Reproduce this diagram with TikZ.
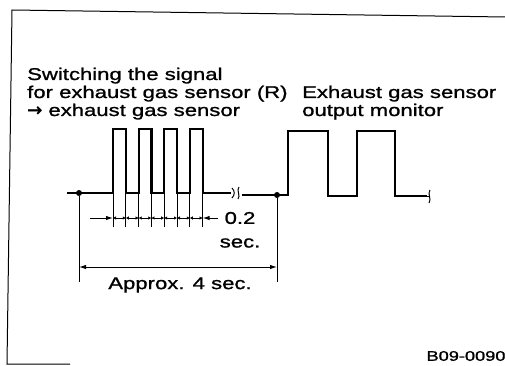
\documentclass[tikz,border=0pt]{standalone}
\usepackage{fontspec}
\setmainfont{Liberation Sans}[FakeStretch=1.3,FakeBold=1.2]
\newfontfamily\arrowfont{DejaVu Sans}[FakeBold=2]
\usetikzlibrary{arrows.meta}
\begin{document}
\begin{tikzpicture}[x=1pt,y=-1pt,
  wave/.style={line width=2.2pt,line join=miter},
  thin/.style={line width=1pt},
  dimarrow/.style={line width=1pt,{Latex[length=7pt,width=4.5pt]}-{Latex[length=7pt,width=4.5pt]}},
  lbl/.style={inner sep=0pt,font=\fontsize{17}{18}\selectfont},
  dotm/.style={circle,fill,inner sep=0pt,minimum size=6pt}]
\useasboundingbox (0,0) rectangle (505,366);
% frame
\draw[thin] (505,17) -- (12,10) -- (7,364) -- (70,364);
% texts
\node[lbl,anchor=base west] (t1) at (27,80) {Switching the signal};
\node[lbl,anchor=base west] (t2) at (27,98) {for exhaust gas sensor (R)};
\node[lbl,anchor=base west] (t3) at (27,116) {{\arrowfont\fontsize{18}{18}\selectfont →} exhaust gas sensor};
\node[lbl,anchor=base west] (t4) at (302,98) {Exhaust gas sensor};
\node[lbl,anchor=base west] (t5) at (302,116) {output monitor};
\node[lbl] (t6) at (240,218) {0.2};
\node[lbl] (t7) at (240,243) {sec.};
\node[lbl] (t8) at (180,285) {Approx. 4 sec.};
\node[inner sep=0pt,font=\fontsize{14}{15}\selectfont] (t9) at (466,356) {B09-0090};
% waveform part 1
\coordinate (s1) at (67,193);
\node[dotm] (d1) at (79,193) {};
\coordinate (b1) at (231,193);
\draw[wave] (s1) -- (113,193)
  -- (113,129) -- (125.8,129) -- (125.8,193) -- (138.6,193)
  -- (138.6,129) -- (151.4,129) -- (151.4,193) -- (164.2,193)
  -- (164.2,129) -- (177,129) -- (177,193) -- (189.8,193)
  -- (189.8,129) -- (202.6,129) -- (202.6,193) -- (b1);
% break mark
\draw[thin] (232,188) .. controls (235,191) and (235,195) .. (232,198);
\draw[thin] (239,187) .. controls (236,190) and (241,196) .. (238,199);
% waveform part 2
\coordinate (s2) at (242,195);
\node[dotm] (d2) at (277,195) {};
\coordinate (e2) at (427,196);
\draw[wave] (s2) -- (287.7,195) -- (287.7,131) -- (328.3,131) -- (328.3,196)
  -- (357.3,196) -- (357.3,131) -- (395,131) -- (395,196) -- (e2);
\draw[thin] (e2) -- (429,196);
\draw[thin] (430,190) .. controls (427,194) and (432,199) .. (429,203);
% tick lines
\foreach \x/\n in {113/0,125.8/1,138.6/2,151.4/3,164.2/4,177/5,189.8/6,202.6/7}{
  \coordinate (k\n) at (\x,227);
  \draw[thin] (\x,193) -- (k\n);
  \coordinate (m\n) at (\x,218);
}
% 0.2 sec dimension
\coordinate (a0) at (90,218);
\coordinate (a1) at (218,218);
\draw[thin,-{Latex[length=7pt,width=4.5pt]}] (a0) -- (m0);
\draw[thin,-{Latex[length=7pt,width=4.5pt]}] (a1) -- (m7);
\foreach \i/\j in {0/1,1/2,2/3,3/4,4/5,5/6,6/7}{
  \draw[line width=1pt,{Latex[length=3pt,width=3.5pt]}-{Latex[length=3pt,width=3.5pt]}] (m\i) -- (m\j);
}
% 4 sec dimension
\coordinate (v1) at (79,282);
\coordinate (v2) at (277,282);
\draw[thin] (d1) -- (v1);
\draw[thin] (d2) -- (v2);
\draw[dimarrow] (79,267) -- (277,267);
\end{tikzpicture}
\end{document}
